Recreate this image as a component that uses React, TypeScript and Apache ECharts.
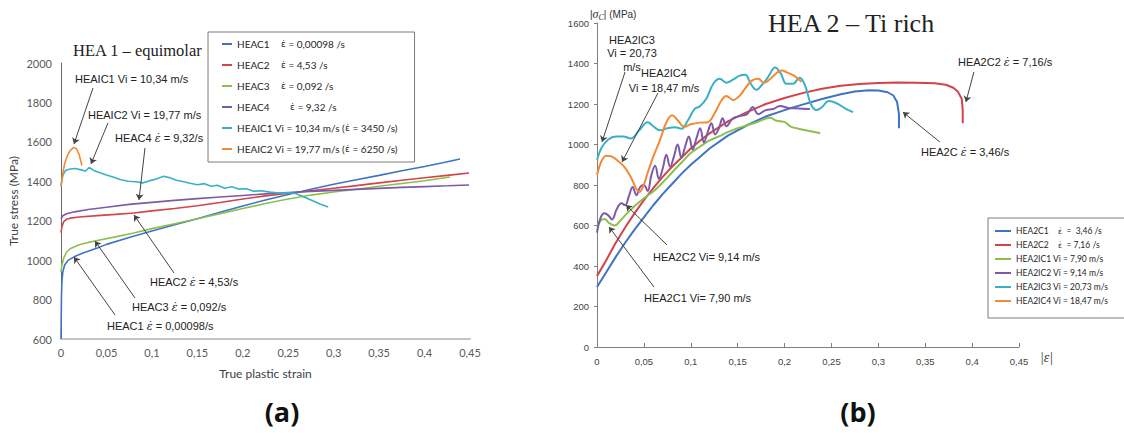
import React, { useEffect, useRef } from "react";
import * as echarts from "echarts";

// ---------- (a) HEA 1 – equimolar : [true plastic strain, true stress MPa]
const heac1 = [[0,600],[0.0005,820],[0.001,890],[0.002,940],[0.004,975],[0.008,1000],[0.015,1018],[0.025,1038],[0.04,1062],[0.05,1080],[0.075,1115],[0.1,1148],[0.125,1180],[0.15,1210],[0.175,1243],[0.2,1275],[0.225,1305],[0.25,1333],[0.275,1360],[0.3,1385],[0.325,1408],[0.35,1430],[0.375,1453],[0.4,1475],[0.42,1494],[0.439,1513]];
const heac2 = [[0,1140],[0.001,1170],[0.003,1195],[0.006,1207],[0.01,1213],[0.02,1219],[0.04,1226],[0.06,1232],[0.08,1239],[0.1,1250],[0.125,1262],[0.15,1276],[0.175,1292],[0.2,1310],[0.225,1326],[0.25,1339],[0.275,1352],[0.3,1365],[0.325,1378],[0.35,1392],[0.375,1405],[0.4,1418],[0.425,1430],[0.449,1442]];
const heac3 = [[0,940],[0.001,975],[0.003,1010],[0.006,1040],[0.01,1058],[0.02,1078],[0.03,1090],[0.04,1100],[0.06,1118],[0.08,1138],[0.1,1160],[0.125,1185],[0.15,1210],[0.175,1236],[0.2,1262],[0.225,1287],[0.25,1310],[0.275,1330],[0.3,1346],[0.325,1360],[0.35,1375],[0.375,1389],[0.4,1403],[0.428,1422]];
const heac4 = [[0,1210],[0.002,1225],[0.006,1235],[0.015,1245],[0.03,1257],[0.05,1268],[0.075,1283],[0.1,1293],[0.125,1303],[0.15,1312],[0.175,1320],[0.2,1328],[0.225,1336],[0.25,1343],[0.275,1349],[0.3,1354],[0.325,1359],[0.35,1364],[0.375,1369],[0.4,1373],[0.425,1377],[0.449,1381]];
const heaic1 = [[0,1375],[0.002,1430],[0.005,1455],[0.01,1462],[0.016,1465],[0.022,1458],[0.027,1452],[0.031,1470],[0.036,1455],[0.042,1445],[0.05,1432],[0.058,1420],[0.066,1408],[0.074,1400],[0.082,1398],[0.09,1392],[0.097,1402],[0.105,1412],[0.113,1425],[0.12,1418],[0.127,1405],[0.135,1398],[0.142,1390],[0.15,1382],[0.158,1388],[0.165,1375],[0.172,1380],[0.18,1365],[0.188,1372],[0.196,1360],[0.204,1362],[0.212,1350],[0.22,1352],[0.23,1345],[0.24,1340],[0.25,1342],[0.258,1338],[0.265,1325],[0.275,1305],[0.285,1285],[0.294,1270]];
const heaic2 = [[0,1375],[0.002,1440],[0.004,1490],[0.007,1530],[0.01,1556],[0.014,1572],[0.017,1565],[0.02,1535],[0.023,1480]];

// ---------- (b) HEA 2 – Ti rich : [|strain|, |stress| MPa]
const hea2c1 = [[0,296],[0.01,370],[0.02,445],[0.03,515],[0.04,580],[0.05,640],[0.06,700],[0.07,755],[0.08,805],[0.09,855],[0.1,900],[0.11,940],[0.12,980],[0.14,1045],[0.16,1095],[0.18,1138],[0.2,1170],[0.22,1198],[0.24,1225],[0.26,1248],[0.275,1262],[0.29,1268],[0.3,1267],[0.31,1258],[0.316,1242],[0.32,1210],[0.322,1150],[0.322,1080]];
const hea2c2 = [[0,350],[0.01,430],[0.02,515],[0.03,590],[0.04,660],[0.05,725],[0.06,785],[0.07,840],[0.08,890],[0.09,935],[0.1,980],[0.11,1020],[0.12,1055],[0.14,1115],[0.16,1160],[0.18,1200],[0.2,1230],[0.22,1255],[0.24,1275],[0.26,1290],[0.28,1299],[0.3,1304],[0.32,1306],[0.34,1305],[0.36,1302],[0.372,1295],[0.38,1280],[0.385,1260],[0.389,1225],[0.39,1170],[0.39,1105]];
const hea2ic1 = [[0,594],[0.004,625],[0.008,632],[0.013,612],[0.019,600],[0.025,625],[0.032,660],[0.04,695],[0.05,735],[0.06,768],[0.07,812],[0.08,862],[0.09,910],[0.1,958],[0.11,990],[0.12,1020],[0.13,1040],[0.14,1062],[0.15,1080],[0.16,1095],[0.17,1110],[0.18,1128],[0.185,1132],[0.19,1120],[0.195,1115],[0.2,1112],[0.206,1090],[0.215,1078],[0.225,1068],[0.238,1056]];
const hea2ic2 = [[0,565],[0.004,640],[0.008,660],[0.012,650],[0.016,630],[0.021,680],[0.026,710],[0.03,700],[0.034,745],[0.038,790],[0.042,750],[0.046,790],[0.05,800],[0.054,770],[0.058,850],[0.062,895],[0.066,830],[0.07,880],[0.074,950],[0.078,890],[0.082,940],[0.086,1000],[0.09,935],[0.094,990],[0.098,1040],[0.102,975],[0.106,1030],[0.11,1080],[0.114,1010],[0.118,1060],[0.122,1105],[0.126,1050],[0.13,1080],[0.134,1130],[0.138,1090],[0.145,1130],[0.152,1140],[0.16,1150],[0.166,1185],[0.172,1150],[0.18,1170],[0.188,1175],[0.195,1190],[0.205,1180],[0.215,1178],[0.227,1175]];
const hea2ic3 = [[0,924],[0.005,985],[0.012,1025],[0.02,1040],[0.028,1040],[0.036,1030],[0.045,1070],[0.054,1110],[0.06,1090],[0.067,1070],[0.075,1080],[0.083,1085],[0.09,1078],[0.097,1120],[0.104,1175],[0.11,1190],[0.117,1230],[0.124,1300],[0.131,1325],[0.138,1305],[0.145,1320],[0.152,1340],[0.158,1345],[0.164,1300],[0.17,1270],[0.176,1295],[0.182,1330],[0.19,1380],[0.196,1350],[0.202,1300],[0.209,1300],[0.216,1330],[0.222,1290],[0.228,1200],[0.234,1170],[0.24,1185],[0.247,1215],[0.255,1205],[0.264,1180],[0.273,1160]];
const hea2ic4 = [[0,849],[0.005,920],[0.01,945],[0.016,940],[0.022,920],[0.03,885],[0.037,830],[0.042,780],[0.045,765],[0.049,790],[0.054,860],[0.06,940],[0.067,1020],[0.074,1110],[0.08,1145],[0.086,1120],[0.093,1088],[0.1,1100],[0.11,1108],[0.118,1110],[0.126,1160],[0.133,1220],[0.138,1240],[0.145,1220],[0.152,1240],[0.16,1290],[0.166,1318],[0.172,1325],[0.178,1305],[0.185,1325],[0.192,1355],[0.197,1365],[0.203,1355],[0.21,1340],[0.218,1310]];

const leftNames = ["HEAC1", "HEAC2", "HEAC3", "HEAC4", "HEAIC1", "HEAIC2"];
const rightNames = ["HEA2C1", "HEA2C2", "HEA2IC1", "HEA2IC2", "HEA2IC3", "HEA2IC4"];
const leftLegendText: Record<string, string> = {
  HEAC1: "{n|HEAC1}{e|ε̇}{t| = 0,00098 /s}",
  HEAC2: "{n|HEAC2}{e|ε̇}{t| = 4,53 /s}",
  HEAC3: "{n|HEAC3}{e|ε̇}{t| = 0,092 /s}",
  HEAC4: "{m|HEAC4}{e|ε̇}{t| = 9,32 /s}",
  HEAIC1: "{t|HEAIC1 Vi = 10,34 m/s (}{e|ε̇}{t| = 3450 /s)}",
  HEAIC2: "{t|HEAIC2 Vi = 19,77 m/s (}{e|ε̇}{t| = 6250 /s)}",
};
const rightLegendText: Record<string, string> = {
  HEA2C1: "{n|HEA2C1}{e|ε̇}{t|  =  3,46 /s}",
  HEA2C2: "{n|HEA2C2}{e|ε̇}{t|  = 7,16 /s}",
  HEA2IC1: "{t|HEA2IC1 Vi = 7,90 m/s}",
  HEA2IC2: "{t|HEA2IC2 Vi = 9,14 m/s}",
  HEA2IC3: "{t|HEA2IC3 Vi = 20,73 m/s}",
  HEA2IC4: "{t|HEA2IC4 Vi = 18,47 m/s}",
};
const leftData = [heac1, heac2, heac3, heac4, heaic1, heaic2];
const rightData = [hea2c1, hea2c2, hea2ic1, hea2ic2, hea2ic3, hea2ic4];
const colors = ["#3f73c4", "#d2434a", "#8dbf4e", "#7d5aa8", "#38b1c6", "#f28a35"];

// annotation arrows (data coordinates) [from, to]
const leftArrows = [
  [[0.0352, 1873], [0.0143, 1589]],
  [[0.0517, 1696], [0.033, 1488]],
  [[0.0924, 1569], [0.0858, 1305]],
  [[0.1243, 935], [0.0803, 1229]],
  [[0.0814, 808], [0.0374, 1097]],
  [[0.0594, 722], [0.0143, 1016]],
];
const rightArrows = [
  [[0.0299, 1358], [0.0053, 1012]],
  [[0.065, 1254], [0.0267, 914]],
  [[0.0746, 504], [0.0309, 701]],
  [[0.0608, 296], [0.0128, 593]],
  [[0.4019, 1358], [0.3934, 1210]],
  [[0.3657, 1012], [0.3262, 1160]],
];

const fmt = (v: number) => String(Math.round(v * 100) / 100).replace(".", ",");
const SANS = "Liberation Sans";
const LBL = "Lato";
const EPS = { fontFamily: "DejaVu Serif", fontStyle: "italic", fontSize: 11 };

function annot(x: number, y: number, text: string, size = 11) {
  return {
    type: "text", x, y,
    style: { text, fill: "#222", fontFamily: SANS, fontSize: size, verticalAlign: "middle", rich: { e: EPS } },
  };
}

export default function App() {
  const ref = useRef<HTMLDivElement>(null);
  useEffect(() => {
    document.body.style.margin = "0";
    const chart = echarts.init(ref.current!, undefined, { renderer: "svg" });
    const arrowML = (arr: number[][][]) => ({
      silent: true,
      symbol: ["none", "arrow"],
      symbolSize: 6,
      label: { show: false },
      lineStyle: { color: "#444", width: 1, type: "solid" },
      data: arr.map(([a, b]) => [{ coord: a }, { coord: b }]),
    });
    const series: any[] = [];
    leftNames.forEach((n, i) => {
      series.push({
        name: n, type: "line", xAxisIndex: 0, yAxisIndex: 0, data: leftData[i],
        showSymbol: false, symbol: "none", color: colors[i],
        lineStyle: { width: 1.6, color: colors[i] },
        markLine: i === 0 ? arrowML(leftArrows) : undefined,
      });
    });
    rightNames.forEach((n, i) => {
      series.push({
        name: n, type: "line", xAxisIndex: 1, yAxisIndex: 1, data: rightData[i],
        showSymbol: false, symbol: "none", color: colors[i], smooth: i >= 2 ? 0.4 : false,
        lineStyle: { width: 2, color: colors[i] },
        markLine: i === 0 ? arrowML(rightArrows) : undefined,
      });
    });
    const legendEps = (size: number, lh: number) => ({ fontFamily: "DejaVu Sans", fontSize: size - 1, lineHeight: lh });
    chart.setOption({
      animation: false,
      grid: [
        { left: 61, top: 63, width: 409, height: 276 },
        { left: 597, top: 23, width: 422, height: 324 },
      ],
      xAxis: [
        {
          gridIndex: 0, type: "value", min: 0, max: 0.45, interval: 0.05,
          axisLine: { lineStyle: { color: "#c4c4c4", width: 2 } }, axisTick: { show: false },
          splitLine: { show: false },
          axisLabel: { fontFamily: LBL, fontSize: 11, color: "#595959", margin: 8, formatter: fmt },
          name: "True plastic strain", nameLocation: "middle", nameGap: 28,
          nameTextStyle: { fontFamily: LBL, fontSize: 12, color: "#404040" },
        },
        {
          gridIndex: 1, type: "value", min: 0, max: 0.45, interval: 0.05,
          axisLine: { lineStyle: { color: "#808080", width: 1 } },
          axisTick: { show: true, inside: true, length: 4, lineStyle: { color: "#808080" } },
          splitLine: { show: false },
          axisLabel: { fontFamily: SANS, fontSize: 9.5, color: "#444", margin: 9, formatter: fmt },
        },
      ],
      yAxis: [
        {
          gridIndex: 0, type: "value", min: 600, max: 2000, interval: 200,
          axisLine: { show: true, lineStyle: { color: "#6a6a6a", width: 1 } }, axisTick: { show: false },
          splitLine: { show: false },
          axisLabel: { fontFamily: LBL, fontSize: 11, color: "#595959", margin: 9, formatter: (v: number) => String(v) },
          name: "True stress (MPa)", nameLocation: "middle", nameGap: 42,
          nameTextStyle: { fontFamily: LBL, fontSize: 12, color: "#404040" },
        },
        {
          gridIndex: 1, type: "value", min: 0, max: 1600, interval: 200,
          axisLine: { show: true, lineStyle: { color: "#808080", width: 1 } },
          axisTick: { show: true, length: 3, lineStyle: { color: "#808080" } },
          splitLine: { show: false },
          axisLabel: { fontFamily: SANS, fontSize: 9.5, color: "#444", margin: 8, formatter: (v: number) => String(v) },
        },
      ],
      legend: [
        {
          data: leftNames, orient: "vertical", left: 208, top: 32,
          padding: [6, 17, 7, 14], itemGap: 9, itemWidth: 10, itemHeight: 2, icon: "rect",
          backgroundColor: "#fff", borderColor: "#7a7a7a", borderWidth: 1, borderRadius: 0,
          formatter: (n: string) => leftLegendText[n],
          textStyle: {
            fontFamily: LBL, fontSize: 10, color: "#262626", lineHeight: 12,
            rich: {
              n: { width: 44, fontFamily: LBL, fontSize: 10, lineHeight: 12 },
              m: { width: 53, fontFamily: LBL, fontSize: 10, lineHeight: 12 },
              t: { fontFamily: LBL, fontSize: 10, lineHeight: 12 },
              e: legendEps(10, 12),
            },
          },
          selectedMode: false,
        },
        {
          data: rightNames, orient: "vertical", left: 988, top: 218,
          padding: [8, 17, 12, 7], itemGap: 4, itemWidth: 16, itemHeight: 2, icon: "rect",
          backgroundColor: "#fff", borderColor: "#7a7a7a", borderWidth: 1, borderRadius: 0,
          formatter: (n: string) => rightLegendText[n],
          textStyle: {
            fontFamily: LBL, fontSize: 8.5, color: "#262626", lineHeight: 10,
            rich: {
              n: { width: 42, fontFamily: LBL, fontSize: 8.5, lineHeight: 10 },
              t: { fontFamily: LBL, fontSize: 8.5, lineHeight: 10 },
              e: legendEps(8.5, 10),
            },
          },
          selectedMode: false,
        },
      ],
      series,
      graphic: [
        { type: "text", x: 73, y: 50, style: { text: "HEA 1 – equimolar", fontFamily: "Liberation Serif", fontSize: 16.5, fill: "#222", verticalAlign: "middle" } },
        { type: "text", x: 768, y: 23, style: { text: "HEA 2 – Ti rich", fontFamily: "Liberation Serif", fontSize: 26, fill: "#222", verticalAlign: "middle" } },
        annot(75, 79, "HEAIC1 Vi = 10,34 m/s"),
        annot(88, 115, "HEAIC2 Vi = 19,77 m/s"),
        annot(115, 138, "HEAC4 {e|ε̇} = 9,32/s"),
        annot(150, 282, "HEAC2 {e|ε̇} = 4,53/s"),
        annot(132, 307, "HEAC3 {e|ε̇} = 0,092/s"),
        annot(107, 326, "HEAC1 {e|ε̇} = 0,00098/s"),
        { type: "text", x: 632, y: 53, style: { text: "HEA2IC3\nVi = 20,73\nm/s", fill: "#222", fontFamily: SANS, fontSize: 11, lineHeight: 13.5, align: "center", verticalAlign: "middle" } },
        { type: "text", x: 664, y: 80, style: { text: "HEA2IC4\nVi = 18,47 m/s", fill: "#222", fontFamily: SANS, fontSize: 11, lineHeight: 15, align: "center", verticalAlign: "middle" } },
        annot(653, 257, "HEA2C2 Vi= 9,14 m/s"),
        annot(644, 298, "HEA2C1 Vi= 7,90 m/s"),
        annot(958, 62, "HEA2C2 {e|ε̇} = 7,16/s"),
        annot(921, 152, "HEA2C {e|ε̇} = 3,46/s"),
        { type: "text", x: 590, y: 14, style: { text: "|{i|σ}{s|C}| (MPa)", fill: "#333", fontFamily: SANS, fontSize: 10, verticalAlign: "middle", rich: { i: { fontFamily: "Liberation Serif", fontStyle: "italic", fontSize: 12 }, s: { fontFamily: "Liberation Serif", fontStyle: "italic", fontSize: 8, padding: [6, 0, 0, 0] } } } },
        { type: "text", x: 1040, y: 357, style: { text: "|ε|", fill: "#333", fontFamily: "Liberation Serif", fontStyle: "italic", fontSize: 14, verticalAlign: "middle" } },
        { type: "text", x: 282, y: 411, style: { text: "(a)", fill: "#111", fontFamily: "Open Sans", fontWeight: "bold", fontSize: 27, align: "center", verticalAlign: "middle" } },
        { type: "text", x: 858, y: 411, style: { text: "(b)", fill: "#111", fontFamily: "Open Sans", fontWeight: "bold", fontSize: 27, align: "center", verticalAlign: "middle" } },
      ],
    });
    return () => chart.dispose();
  }, []);
  return <div ref={ref} style={{ width: 1124, height: 435 }} />;
}
